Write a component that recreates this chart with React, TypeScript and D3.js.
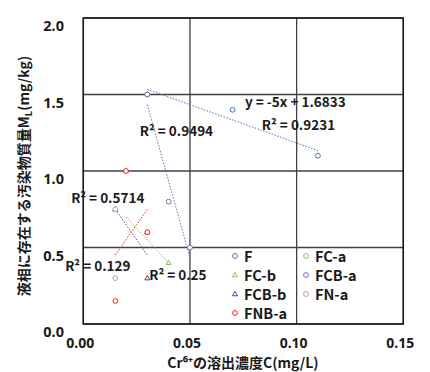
import React from "react";
import * as d3 from "d3";

const seriesNames = ["F", "FC-a", "FC-b", "FCB-a", "FCB-b", "FN-a", "FNB-a"];
const seriesX: number[][] = [
  [0.03, 0.07, 0.11],
  [],
  [0.02, 0.02, 0.04],
  [0.03, 0.04, 0.05],
  [0.015, 0.03, 0.03],
  [0.015, 0.015],
  [0.015, 0.02, 0.03],
];
const seriesY: number[][] = [
  [1.5, 1.4, 1.1],
  [],
  [0.4, 1.0, 0.4],
  [1.5, 0.8, 0.5],
  [0.75, 0.3, 0.6],
  [0.75, 0.3],
  [0.15, 1.0, 0.6],
];
const seriesShape = ["circle", "circle", "triangle", "circle", "triangle", "circle", "circle"];
const seriesColor = ["#4472C4", "#8CC063", "#8CC063", "#8A63B5", "#7030A0", "#A5A5A5", "#FF2020"];
const trendSeries = ["F", "FC-b", "FCB-a", "FCB-b", "FNB-a"];
const trendLabels = ["R² = 0.9231", "R² = 0.25", "R² = 0.9494", "R² = 0.5714", "R² = 0.129"];
const equationLabel = "y = -5x + 1.6833";
const xTicks = [0, 0.05, 0.1, 0.15];
const yTicks = [0, 0.5, 1.0, 1.5, 2.0];
const xTitle = "Cr⁶⁺の溶出濃度C(mg/L)";
const yTitleMain = "液相に存在する汚染物質量M";
const yTitleSub = "L";
const yTitleEnd = "(mg/kg)";

// label anchor positions (data coords) for R² labels
const labelPos: [number, number][] = [
  [0.0837, 1.27],
  [0.0309, 0.287],
  [0.0265, 1.23],
  [-0.0057, 0.79],
  [-0.0085, 0.345],
];

export default function App() {
  const W = 430, H = 372;
  const x = d3.scaleLinear().domain([0, 0.15]).range([83.3, 403.3]);
  const y = d3.scaleLinear().domain([0, 2]).range([324, 18]);
  const font = "'Noto Sans CJK JP', 'Noto Sans', sans-serif";
  const latin = "'Noto Sans', sans-serif";

  const trends = trendSeries.map((name) => {
    const i = seriesNames.indexOf(name);
    const xs = seriesX[i], ys = seriesY[i];
    const mx = d3.mean(xs)!, my = d3.mean(ys)!;
    let sxy = 0, sxx = 0;
    xs.forEach((v, k) => { sxy += (v - mx) * (ys[k] - my); sxx += (v - mx) ** 2; });
    const b = sxy / sxx, a = my - b * mx;
    const [x0, x1] = d3.extent(xs) as [number, number];
    return { i, x0, x1, y0: a + b * x0, y1: a + b * x1 };
  });

  const tri = d3.symbol().type(d3.symbolTriangle).size(11)();

  const marker = (shape: string, color: string, cx: number, cy: number, key: string) =>
    shape === "circle" ? (
      <circle key={key} cx={cx} cy={cy} r={2.4} fill="white" stroke={color} strokeWidth={1} />
    ) : (
      <path key={key} d={tri!} transform={`translate(${cx},${cy + 0.3})`} fill="white" stroke={color} strokeWidth={1} />
    );

  const legendCols = [[0, 2, 4, 6], [1, 3, 5]];
  const legendX = [235, 306];

  return (
    <svg width={W} height={H} style={{ position: "absolute", left: 0, top: 0 }} fontFamily={font}>
      <rect width={W} height={H} fill="white" />
      {/* grid */}
      {xTicks.map((t) => (
        <line key={"gx" + t} x1={x(t)} x2={x(t)} y1={y(0)} y2={y(2)} stroke="#404040" strokeWidth={1.3} />
      ))}
      {yTicks.map((t) => (
        <line key={"gy" + t} x1={x(0)} x2={x(0.15)} y1={y(t)} y2={y(t)} stroke="#404040" strokeWidth={1.3} />
      ))}
      <rect x={x(0)} y={y(2)} width={x(0.15) - x(0)} height={y(0) - y(2)} fill="none" stroke="#1a1a1a" strokeWidth={1.5} />
      {/* trendlines */}
      {trends.map((t, k) => (
        <line key={"tr" + k} x1={x(t.x0)} y1={y(t.y0)} x2={x(t.x1)} y2={y(t.y1)} stroke={seriesColor[t.i]} strokeWidth={1} strokeDasharray="1.5,1.5" />
      ))}
      {/* points */}
      {seriesNames.map((n, i) =>
        seriesX[i].map((v, k) => marker(seriesShape[i], seriesColor[i], x(v), y(seriesY[i][k]), n + k))
      )}
      {/* labels */}
      <text x={245} y={107} fontSize={13.5} fontWeight={700} fill="#1a1a1a">{equationLabel}</text>
      {trendLabels.map((l, k) => (
        <text key={"lb" + k} x={x(labelPos[k][0])} y={y(labelPos[k][1])} fontSize={13.5} fontWeight={700} fill="#1a1a1a">{l}</text>
      ))}
      {/* legend */}
      {legendCols.map((col, c) =>
        col.map((i, r) => (
          <g key={"lg" + i}>
            {marker(seriesShape[i], seriesColor[i], legendX[c], 256 + r * 19, "lm" + i)}
            <text x={legendX[c] + 9} y={256 + r * 19 + 5.5} fontSize={14.5} fontWeight={700} fill="#1a1a1a">{seriesNames[i]}</text>
          </g>
        ))
      )}
      {/* axes labels */}
      {yTicks.map((t) => (
        <text key={"yt" + t} x={64} y={y(t) + 13} fontSize={14.5} fontFamily={latin} fontWeight={700} textAnchor="end" fill="#1a1a1a">{t.toFixed(1)}</text>
      ))}
      {xTicks.map((t) => (
        <text key={"xt" + t} x={x(t) - 3} y={348} fontSize={14} fontFamily={latin} fontWeight={700} textAnchor="middle" fill="#1a1a1a">{t.toFixed(2)}</text>
      ))}
      <text x={243} y={368} fontSize={14} fontWeight={700} textAnchor="middle" fill="#1a1a1a">{xTitle}</text>
      <text transform="translate(29,176) rotate(-90)" fontSize={14} fontWeight={700} textAnchor="middle" fill="#1a1a1a">
        {yTitleMain}
        <tspan fontSize={9.5} dy={3}>{yTitleSub}</tspan>
        <tspan dy={-3}>{yTitleEnd}</tspan>
      </text>
    </svg>
  );
}
